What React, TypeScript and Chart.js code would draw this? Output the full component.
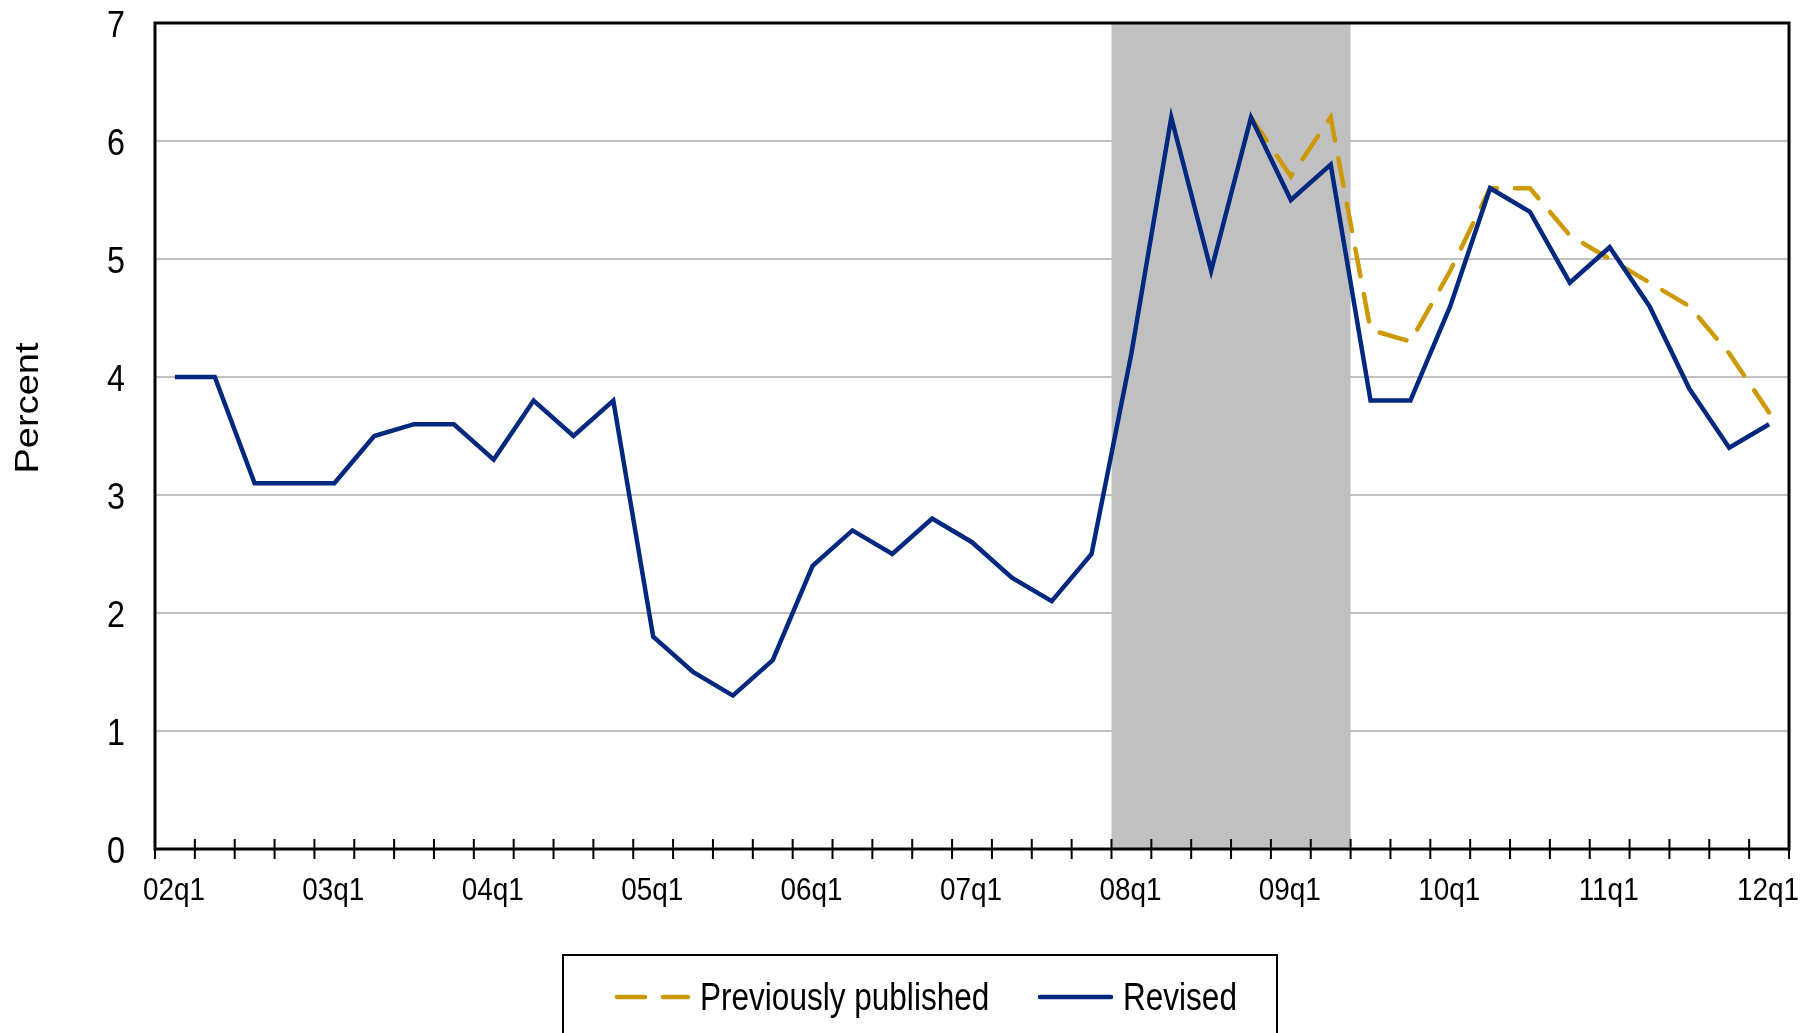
import { useEffect, useRef } from 'react';
import { Chart, registerables } from 'chart.js';

Chart.register(...registerables);

const quarters = [
  '02q1', '02q2', '02q3', '02q4',
  '03q1', '03q2', '03q3', '03q4',
  '04q1', '04q2', '04q3', '04q4',
  '05q1', '05q2', '05q3', '05q4',
  '06q1', '06q2', '06q3', '06q4',
  '07q1', '07q2', '07q3', '07q4',
  '08q1', '08q2', '08q3', '08q4',
  '09q1', '09q2', '09q3', '09q4',
  '10q1', '10q2', '10q3', '10q4',
  '11q1', '11q2', '11q3', '11q4',
  '12q1',
];

const revised = [
  4.0, 4.0, 3.1, 3.1,
  3.1, 3.5, 3.6, 3.6,
  3.3, 3.8, 3.5, 3.8,
  1.8, 1.5, 1.3, 1.6,
  2.4, 2.7, 2.5, 2.8,
  2.6, 2.3, 2.1, 2.5,
  4.2, 6.2, 4.9, 6.2,
  5.5, 5.8, 3.8, 3.8,
  4.6, 5.6, 5.4, 4.8,
  5.1, 4.6, 3.9, 3.4,
  3.6,
];

const previouslyPublished = [
  null, null, null, null,
  null, null, null, null,
  null, null, null, null,
  null, null, null, null,
  null, null, null, null,
  null, null, null, null,
  null, null, null, 6.2,
  5.7, 6.2, 4.4, 4.3,
  4.9, 5.6, 5.6, 5.2,
  5.0, 4.8, 4.6, 4.2,
  3.7,
];

const recessionStart = '08q1';
const recessionEnd = '09q2';
const yTickValues = [0, 1, 2, 3, 4, 5, 6, 7];
const xLabelEvery = 4;
const yTitle = 'Percent';

const FONT = '"Liberation Sans", Arial, sans-serif';
const NAVY = '#00287F';
const GOLD = '#CC9900';
const SHADE = '#C0C0C0';

function drawText(
  ctx: CanvasRenderingContext2D,
  text: string,
  x: number,
  y: number,
  size: number,
  align: CanvasTextAlign,
  sx: number
) {
  ctx.save();
  ctx.translate(x, y);
  ctx.scale(sx, 1);
  ctx.font = `${size}px ${FONT}`;
  ctx.fillStyle = '#000';
  ctx.textAlign = align;
  ctx.textBaseline = 'alphabetic';
  ctx.fillText(text, 0, 0);
  ctx.restore();
}

const bgPlugin = {
  id: 'bg',
  beforeDraw(chart: any) {
    const ctx = chart.ctx;
    ctx.save();
    ctx.fillStyle = '#fff';
    ctx.fillRect(0, 0, chart.width, chart.height);
    ctx.restore();
  },
};

const shadePlugin = {
  id: 'shade',
  beforeDatasetsDraw(chart: any) {
    const { ctx, chartArea } = chart;
    const x = chart.scales.x;
    const half = (x.getPixelForValue(1) - x.getPixelForValue(0)) / 2;
    const i0 = quarters.indexOf(recessionStart);
    const i1 = quarters.indexOf(recessionEnd);
    const x0 = x.getPixelForValue(i0) - half;
    const x1 = x.getPixelForValue(i1) + half;
    ctx.save();
    ctx.fillStyle = SHADE;
    ctx.fillRect(x0, chartArea.top, x1 - x0, chartArea.bottom - chartArea.top);
    ctx.restore();
  },
};

const framePlugin = {
  id: 'frame',
  afterDatasetsDraw(chart: any) {
    const { ctx, chartArea } = chart;
    const { left, right, top, bottom } = chartArea;
    const x = chart.scales.x;
    const y = chart.scales.y;
    const half = (x.getPixelForValue(1) - x.getPixelForValue(0)) / 2;
    ctx.save();
    ctx.strokeStyle = '#000';
    ctx.lineWidth = 3;
    ctx.strokeRect(left, top, right - left, bottom - top);
    ctx.lineWidth = 2;
    ctx.beginPath();
    for (let i = 0; i <= quarters.length; i++) {
      const px =
        i < quarters.length ? x.getPixelForValue(i) - half : x.getPixelForValue(quarters.length - 1) + half;
      ctx.moveTo(px, bottom - 10);
      ctx.lineTo(px, bottom + 10);
    }
    ctx.stroke();
    ctx.restore();

    yTickValues.forEach((v) => {
      drawText(ctx, String(v), left - 30, y.getPixelForValue(v) + 13.5, 37.5, 'right', 0.86);
    });
    quarters.forEach((q, i) => {
      if (i % xLabelEvery === 0) {
        drawText(ctx, q, x.getPixelForValue(i) - 1, 900, 31, 'center', 0.9);
      }
    });
    ctx.save();
    ctx.translate(38, 408);
    ctx.rotate(-Math.PI / 2);
    ctx.scale(1, 0.86);
    ctx.font = `38px ${FONT}`;
    ctx.fillStyle = '#000';
    ctx.textAlign = 'center';
    ctx.textBaseline = 'alphabetic';
    ctx.fillText(yTitle, 0, 0);
    ctx.restore();
  },
};

const legendPlugin = {
  id: 'customLegend',
  afterDraw(chart: any) {
    const ctx = chart.ctx;
    const ds = chart.data.datasets;
    ctx.save();
    ctx.strokeStyle = '#000';
    ctx.lineWidth = 2;
    ctx.strokeRect(563, 955, 714, 200);

    const items = [
      { d: ds[0], x0: 617, x1: 688, tx: 700 },
      { d: ds[1], x0: 1040, x1: 1111, tx: 1123 },
    ];
    items.forEach((it) => {
      ctx.save();
      ctx.strokeStyle = it.d.borderColor;
      ctx.lineWidth = 4.5;
      ctx.lineCap = 'round';
      ctx.setLineDash(it.d.borderDash || []);
      ctx.beginPath();
      ctx.moveTo(it.x0, 997);
      ctx.lineTo(it.x1, 997);
      ctx.stroke();
      ctx.restore();
      drawText(ctx, it.d.label, it.tx, 1010, 38, 'left', 0.83);
    });
    ctx.restore();
  },
};

export default function App() {
  const ref = useRef<HTMLCanvasElement>(null);

  useEffect(() => {
    document.body.style.margin = '0';
    document.body.style.overflow = 'hidden';
    const chart = new Chart(ref.current as HTMLCanvasElement, {
      type: 'line',
      data: {
        labels: quarters,
        datasets: [
          {
            label: 'Previously published',
            data: previouslyPublished,
            borderColor: GOLD,
            backgroundColor: GOLD,
            borderWidth: 4.5,
            borderDash: [28, 18],
            borderCapStyle: 'round',
            pointRadius: 0,
            tension: 0,
            spanGaps: false,
            order: 2,
          },
          {
            label: 'Revised',
            data: revised,
            borderColor: NAVY,
            backgroundColor: NAVY,
            borderWidth: 4.5,
            pointRadius: 0,
            tension: 0,
            order: 1,
          },
        ],
      } as any,
      options: {
        responsive: false,
        animation: false,
        layout: { padding: { top: 23, right: 27, left: 0, bottom: 0 } },
        plugins: {
          legend: { display: false },
          tooltip: { enabled: false },
        },
        scales: {
          x: {
            type: 'category',
            offset: true,
            grid: { display: false },
            border: { display: false },
            ticks: { display: false },
            afterFit: (s: any) => {
              s.height = 184;
            },
          },
          y: {
            min: 0,
            max: 7,
            ticks: { display: false, stepSize: 1 },
            grid: { color: SHADE, lineWidth: 2, drawTicks: false },
            border: { display: false },
            afterFit: (s: any) => {
              s.width = 155;
            },
          },
        },
      } as any,
      plugins: [bgPlugin, shadePlugin, framePlugin, legendPlugin],
    });
    return () => chart.destroy();
  }, []);

  return (
    <canvas
      ref={ref}
      width={1816}
      height={1033}
      style={{ display: 'block', width: 1816, height: 1033 }}
    />
  );
}
